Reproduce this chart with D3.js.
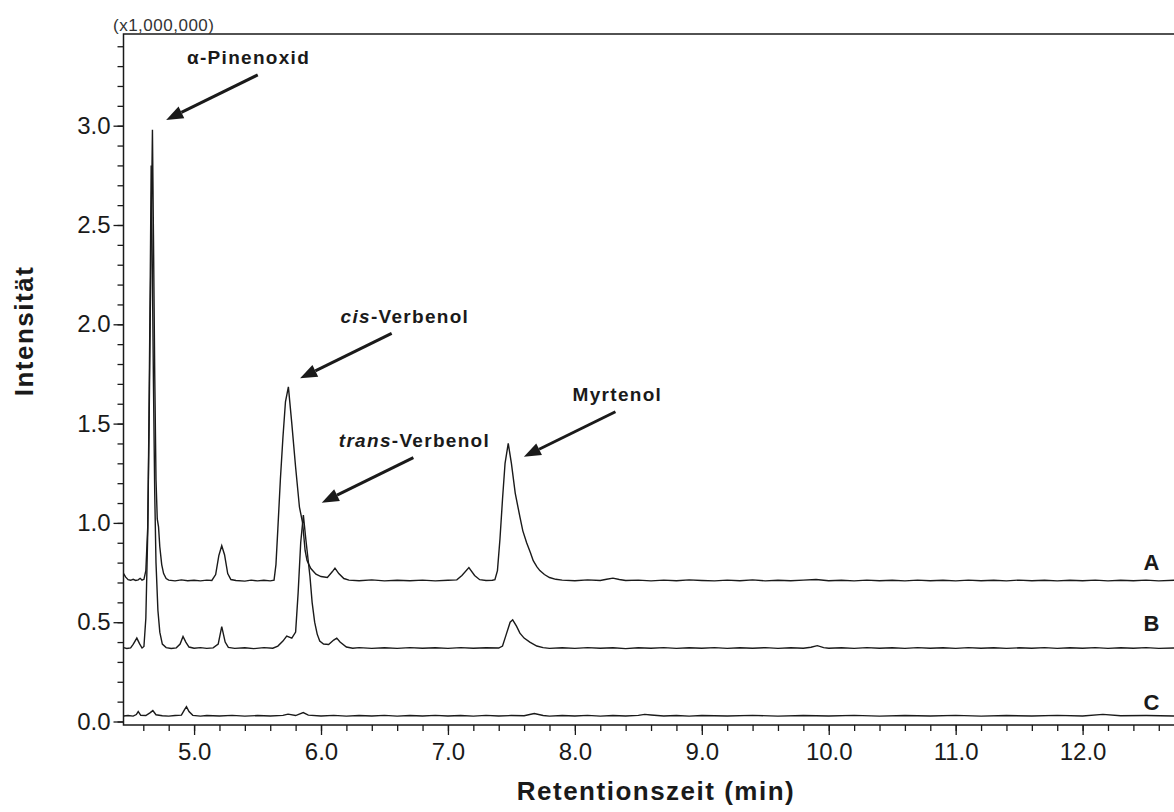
<!DOCTYPE html>
<html>
<head>
<meta charset="utf-8">
<script src="https://cdn.jsdelivr.net/npm/d3@7"></script>
<style>
  body { margin: 0; background: #fff; }
  text { font-family: "Liberation Sans", Arial, sans-serif; }
</style>
</head>
<body>
<div id="chart"></div>
<script>
// chromatogram traces, [retention time (min), intensity (x1,000,000)]
var traceA = [
  [4.445,0.745],[4.46,0.728],[4.48,0.714],[4.50,0.711],[4.52,0.716],[4.54,0.710],[4.56,0.713],[4.575,0.721],
  [4.59,0.712],[4.605,0.716],[4.62,0.76],[4.635,0.98],[4.645,1.45],[4.655,2.05],[4.665,2.62],[4.672,2.98],
  [4.68,2.45],[4.69,1.75],[4.70,1.22],[4.71,1.02],[4.72,0.98],[4.73,0.88],[4.745,0.79],[4.76,0.745],
  [4.78,0.72],[4.80,0.712],[4.85,0.708],[4.90,0.713],[4.95,0.709],[5.00,0.711],[5.05,0.708],[5.10,0.712],
  [5.14,0.710],[5.17,0.74],[5.195,0.835],[5.218,0.885],[5.24,0.84],[5.265,0.745],[5.29,0.715],[5.33,0.710],
  [5.40,0.707],[5.45,0.712],[5.50,0.708],[5.55,0.711],[5.60,0.708],[5.63,0.712],[5.645,0.79],[5.66,0.97],
  [5.68,1.22],[5.70,1.43],[5.72,1.61],[5.743,1.685],[5.77,1.50],[5.80,1.28],[5.83,1.08],[5.855,1.00],
  [5.875,0.86],[5.89,0.81],[5.92,0.77],[5.96,0.742],[6.00,0.73],[6.05,0.725],[6.09,0.755],[6.11,0.772],
  [6.14,0.745],[6.18,0.72],[6.22,0.712],[6.30,0.709],[6.40,0.713],[6.50,0.708],[6.60,0.711],[6.70,0.709],
  [6.80,0.712],[6.90,0.708],[7.00,0.711],[7.07,0.713],[7.11,0.735],[7.165,0.775],[7.21,0.735],[7.25,0.714],
  [7.30,0.710],[7.35,0.711],[7.37,0.714],[7.39,0.76],[7.41,0.92],[7.43,1.12],[7.45,1.30],[7.475,1.40],
  [7.50,1.30],[7.53,1.15],[7.567,1.03],[7.59,0.96],[7.62,0.90],[7.65,0.85],[7.672,0.81],[7.70,0.78],
  [7.724,0.76],[7.76,0.74],[7.80,0.725],[7.85,0.716],[7.90,0.712],[8.00,0.709],[8.10,0.713],[8.20,0.710],
  [8.25,0.716],[8.30,0.722],[8.35,0.715],[8.40,0.710],[8.50,0.712],[8.60,0.708],[8.70,0.712],[8.80,0.709],
  [8.90,0.713],[9.00,0.710],[9.10,0.708],[9.20,0.712],[9.30,0.709],[9.40,0.713],[9.50,0.708],[9.60,0.711],
  [9.70,0.709],[9.80,0.712],[9.90,0.715],[10.0,0.709],[10.1,0.711],[10.2,0.708],[10.3,0.712],[10.4,0.709],
  [10.5,0.711],[10.6,0.708],[10.7,0.712],[10.8,0.709],[10.9,0.711],[11.0,0.708],[11.1,0.712],[11.2,0.709],
  [11.3,0.711],[11.4,0.708],[11.5,0.712],[11.6,0.709],[11.7,0.711],[11.8,0.708],[11.9,0.711],[12.0,0.709],
  [12.1,0.712],[12.2,0.708],[12.3,0.711],[12.4,0.709],[12.5,0.712],[12.6,0.708],[12.72,0.711]
];
var traceB = [
  [4.445,0.372],[4.47,0.368],[4.50,0.371],[4.52,0.388],[4.549,0.42],[4.57,0.392],[4.59,0.370],[4.605,0.378],
  [4.62,0.52],[4.635,0.95],[4.645,1.55],[4.655,2.25],[4.662,2.80],[4.67,2.35],[4.68,1.70],[4.69,1.15],
  [4.70,0.80],[4.715,0.56],[4.73,0.45],[4.75,0.39],[4.78,0.372],[4.82,0.368],[4.86,0.371],[4.89,0.39],
  [4.913,0.428],[4.935,0.40],[4.96,0.375],[5.00,0.369],[5.05,0.372],[5.10,0.368],[5.15,0.371],[5.19,0.39],
  [5.218,0.478],[5.245,0.40],[5.27,0.373],[5.32,0.368],[5.40,0.371],[5.47,0.367],[5.55,0.372],[5.62,0.369],
  [5.66,0.38],[5.70,0.405],[5.73,0.43],[5.77,0.42],[5.80,0.45],[5.82,0.65],[5.84,0.90],[5.861,1.04],
  [5.88,0.92],[5.913,0.73],[5.93,0.60],[5.95,0.50],[5.97,0.44],[5.99,0.405],[6.02,0.39],[6.06,0.388],
  [6.10,0.41],[6.124,0.42],[6.15,0.40],[6.20,0.375],[6.25,0.369],[6.30,0.372],[6.40,0.368],[6.50,0.371],
  [6.60,0.368],[6.70,0.372],[6.80,0.369],[6.90,0.371],[7.00,0.368],[7.10,0.372],[7.20,0.369],[7.30,0.371],
  [7.40,0.370],[7.43,0.38],[7.46,0.44],[7.49,0.50],[7.51,0.512],[7.54,0.48],[7.567,0.445],[7.60,0.42],
  [7.645,0.40],[7.70,0.38],[7.75,0.372],[7.80,0.368],[7.90,0.371],[8.00,0.368],[8.10,0.372],[8.20,0.369],
  [8.30,0.371],[8.40,0.367],[8.50,0.371],[8.60,0.369],[8.70,0.372],[8.80,0.368],[8.90,0.371],[9.00,0.369],
  [9.10,0.372],[9.20,0.368],[9.30,0.371],[9.40,0.369],[9.50,0.372],[9.60,0.368],[9.70,0.371],[9.80,0.369],
  [9.86,0.374],[9.91,0.382],[9.96,0.372],[10.0,0.369],[10.1,0.371],[10.2,0.368],[10.3,0.372],[10.4,0.369],
  [10.5,0.371],[10.6,0.368],[10.7,0.372],[10.8,0.369],[10.9,0.371],[11.0,0.368],[11.1,0.372],[11.2,0.369],
  [11.3,0.371],[11.4,0.368],[11.5,0.371],[11.6,0.369],[11.7,0.372],[11.8,0.368],[11.9,0.371],[12.0,0.369],
  [12.1,0.372],[12.2,0.368],[12.3,0.371],[12.4,0.369],[12.5,0.372],[12.6,0.368],[12.72,0.370]
];
var traceC = [
  [4.445,0.028],[4.48,0.030],[4.52,0.027],[4.545,0.035],[4.56,0.050],[4.58,0.031],[4.62,0.030],[4.655,0.045],
  [4.675,0.055],[4.70,0.034],[4.75,0.029],[4.80,0.027],[4.85,0.030],[4.90,0.032],[4.925,0.060],[4.94,0.075],
  [4.96,0.050],[4.99,0.031],[5.05,0.027],[5.10,0.030],[5.20,0.028],[5.30,0.031],[5.40,0.027],[5.50,0.030],
  [5.60,0.028],[5.70,0.031],[5.74,0.037],[5.80,0.030],[5.86,0.045],[5.90,0.032],[6.00,0.028],[6.10,0.031],
  [6.20,0.027],[6.30,0.030],[6.40,0.028],[6.50,0.031],[6.60,0.027],[6.70,0.030],[6.80,0.028],[6.90,0.031],
  [7.00,0.028],[7.10,0.030],[7.20,0.027],[7.30,0.031],[7.40,0.028],[7.50,0.030],[7.60,0.029],[7.68,0.040],
  [7.75,0.030],[7.80,0.027],[7.90,0.030],[8.00,0.028],[8.10,0.031],[8.20,0.027],[8.30,0.030],[8.40,0.028],
  [8.50,0.031],[8.55,0.036],[8.60,0.033],[8.70,0.028],[8.80,0.030],[8.90,0.027],[9.00,0.030],[9.20,0.028],
  [9.40,0.031],[9.60,0.027],[9.80,0.030],[10.0,0.028],[10.2,0.031],[10.4,0.027],[10.6,0.030],[10.8,0.028],
  [11.0,0.031],[11.2,0.027],[11.4,0.030],[11.6,0.028],[11.8,0.031],[12.0,0.028],[12.16,0.036],[12.3,0.029],
  [12.5,0.030],[12.72,0.028]
];
var traces = [traceA, traceB, traceC];
var traceNames = ["A", "B", "C"];
var traceLabelV = [0.763, 0.456, 0.058];

// peak annotations: arrow tip and label centre, in data units
var peakNames = ["α-Pinenoxid", "cis-Verbenol", "trans-Verbenol", "Myrtenol"];
var peakItalic = ["", "cis", "trans", ""];
var tipT = [4.780, 5.835, 6.006, 7.598];
var tipV = [3.029, 1.728, 1.102, 1.333];
var labelT = [5.429, 6.661, 6.736, 8.335];
var labelV = [3.309, 2.007, 1.384, 1.615];

var yMajor = [0.0, 0.5, 1.0, 1.5, 2.0, 2.5, 3.0];
var yMinor = d3.range(0, 35).map(function (i) { return i / 10; });
var xMajor = [5, 6, 7, 8, 9, 10, 11, 12];
var xMinor = d3.range(23, 64).map(function (i) { return i / 5; });

drawChart();

function drawChart() {
    var W = 1174, H = 812;
    var pl = 123.5, pt = 34, pb = 725, pr = 1174;
    var ink = "#1a1a1a";

    var svg = d3.select("#chart").append("svg")
        .attr("width", W).attr("height", H);
    svg.append("rect").attr("width", W).attr("height", H).attr("fill", "#fff");

    var x = d3.scaleLinear().domain([4.444, 12.72]).range([pl, pr]);
    var y = d3.scaleLinear().domain([-0.0176, 3.4617]).range([pb, pt]);

    // y axis
    svg.append("g").attr("transform", "translate(" + pl + ",0)")
        .call(d3.axisLeft(y).tickValues(yMinor).tickSize(6).tickFormat(""))
        .call(function (g) { g.select(".domain").remove(); });
    svg.append("g").attr("transform", "translate(" + pl + ",0)")
        .call(d3.axisLeft(y).tickValues(yMajor).tickSize(10).tickPadding(3).tickFormat(d3.format(".1f")))
        .call(function (g) { g.select(".domain").remove(); })
        .selectAll("text").style("font-size", "24px").attr("fill", ink);

    // x axis
    svg.append("g").attr("transform", "translate(0," + pb + ")")
        .call(d3.axisBottom(x).tickValues(xMinor).tickSize(6).tickFormat(""))
        .call(function (g) { g.select(".domain").remove(); });
    svg.append("g").attr("transform", "translate(0," + pb + ")")
        .call(d3.axisBottom(x).tickValues(xMajor).tickSize(10).tickPadding(8).tickFormat(d3.format(".1f")))
        .call(function (g) { g.select(".domain").remove(); })
        .selectAll("text").style("font-size", "24px").attr("fill", ink);

    svg.selectAll(".tick line").attr("stroke", ink).attr("stroke-width", 1.3);

    // frame lines
    svg.append("path")
        .attr("d", "M" + pr + "," + pt + "H" + pl + "V" + pb + "H" + pr)
        .attr("fill", "none").attr("stroke", ink).attr("stroke-width", 1.5);

    // traces
    var line = d3.line().x(function (d) { return x(d[0]); }).y(function (d) { return y(d[1]); });
    svg.selectAll(".trace").data(traces).enter().append("path")
        .attr("class", "trace")
        .attr("d", line)
        .attr("fill", "none")
        .attr("stroke", ink)
        .attr("stroke-width", 1.4);

    // trace labels
    svg.selectAll(".tlab").data(traceNames).enter().append("text")
        .attr("x", x(12.543)).attr("y", function (d, i) { return y(traceLabelV[i]); })
        .attr("text-anchor", "middle")
        .style("font-size", "22px").style("font-weight", "bold").attr("fill", ink)
        .text(function (d) { return d; });

    // annotations with arrows
    var arrDx = 91.6, arrDy = -45;
    peakNames.forEach(function (name, i) {
        var tx = x(tipT[i]), ty = y(tipV[i]);
        var sx = tx + arrDx, sy = ty + arrDy;
        var ang = Math.atan2(ty - sy, tx - sx);
        var hl = 17, hw = 6.5;
        var bx = tx - hl * Math.cos(ang), by = ty - hl * Math.sin(ang);
        svg.append("line").attr("x1", sx).attr("y1", sy).attr("x2", bx).attr("y2", by)
            .attr("stroke", ink).attr("stroke-width", 3);
        svg.append("path")
            .attr("d", "M" + tx + "," + ty +
                "L" + (bx + hw * Math.sin(ang)) + "," + (by - hw * Math.cos(ang)) +
                "L" + (bx - hw * Math.sin(ang)) + "," + (by + hw * Math.cos(ang)) + "Z")
            .attr("fill", ink);

        var t = svg.append("text")
            .attr("x", x(labelT[i])).attr("y", y(labelV[i]))
            .attr("text-anchor", "middle")
            .style("font-size", "19px").style("font-weight", "bold").style("letter-spacing", "1.3px")
            .attr("fill", ink);
        if (peakItalic[i]) {
            t.append("tspan").style("font-style", "italic").text(peakItalic[i]);
            t.append("tspan").text(name.slice(peakItalic[i].length));
        } else {
            t.text(name);
        }
    });

    // scale note
    svg.append("text").attr("x", 113).attr("y", 31)
        .style("font-size", "17px").style("letter-spacing", "0.5px").attr("fill", "#333")
        .text("(x1,000,000)");

    // axis titles
    svg.append("text")
        .attr("transform", "translate(33,331) rotate(-90)")
        .attr("text-anchor", "middle")
        .style("font-size", "26px").style("font-weight", "bold").style("letter-spacing", "1.5px")
        .attr("fill", ink)
        .text("Intensität");

    svg.append("text")
        .attr("x", 656).attr("y", 800)
        .attr("text-anchor", "middle")
        .style("font-size", "26px").style("font-weight", "bold").style("letter-spacing", "1.5px")
        .attr("fill", ink)
        .text("Retentionszeit (min)");
}
</script>
</body>
</html>
